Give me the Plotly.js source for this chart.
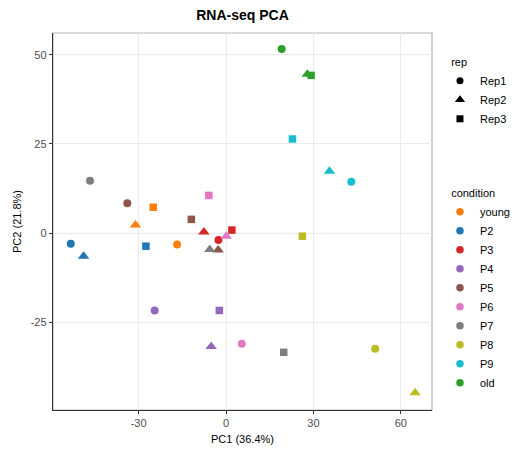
<!DOCTYPE html>
<html>
<head>
<meta charset="utf-8">
<script src="https://cdn.plot.ly/plotly-3.0.1.min.js"></script>
<style>html,body{margin:0;padding:0;background:#fff;}#chart{width:514px;height:450px;}</style>
</head>
<body>
<div id="chart"></div>
<script>
const conditions = ["young","P2","P3","P4","P5","P6","P7","P8","P9","old"];
const colors = ["#ff7f0e","#1f77b4","#d62728","#9467bd","#8c564b","#e377c2","#7f7f7f","#bcbd22","#17becf","#2ca02c"];
const reps = ["Rep1","Rep2","Rep3"];
const repSymbols = ["circle","triangle-up","square"];
// PC1 values per condition, ordered Rep1, Rep2, Rep3
const pc1 = {
  young: [-16.8, -31.1, -25.0],
  P2:    [-53.3, -48.9, -27.5],
  P3:    [-2.6, -7.6, 2.0],
  P4:    [-24.5, -5.1, -2.3],
  P5:    [-33.9, -2.7, -11.9],
  P6:    [5.4, 0.1, -5.9],
  P7:    [-46.7, -5.6, 19.8],
  P8:    [51.2, 64.9, 26.2],
  P9:    [43.0, 35.5, 22.8],
  old:   [19.1, 27.9, 29.2]
};
const pc2 = {
  young: [-3.1, 2.3, 7.3],
  P2:    [-2.9, -6.4, -3.6],
  P3:    [-1.9, 0.4, 0.9],
  P4:    [-21.6, -31.7, -21.6],
  P5:    [8.4, -4.7, 3.9],
  P6:    [-30.9, -0.8, 10.6],
  P7:    [14.7, -4.5, -33.3],
  P8:    [-32.3, -44.6, -0.8],
  P9:    [14.4, 17.4, 26.4],
  old:   [51.6, 44.5, 44.2]
};
const xTicks = [-30, 0, 30, 60];
const yTicks = [-25, 0, 25, 50];

const FONT = "Liberation Sans, Arial, Helvetica, sans-serif";
const symSizes = [8, 10, 7.5];
const traces = [];
conditions.forEach((c, i) => {
  traces.push({
    type: "scatter", mode: "markers",
    x: pc1[c], y: pc2[c], name: c, showlegend: false,
    marker: {color: colors[i], size: symSizes, symbol: repSymbols, opacity: 1, line: {width: 0}},
    hoverinfo: "x+y+name"
  });
});
reps.forEach((r, i) => {
  traces.push({
    type: "scatter", mode: "markers", x: [null], y: [null], name: r,
    legend: "legend", showlegend: true,
    marker: {color: "#000", size: i === 1 ? 9 : 7, symbol: repSymbols[i], opacity: 1}
  });
});
conditions.forEach((c, i) => {
  traces.push({
    type: "scatter", mode: "markers", x: [null], y: [null], name: c,
    legend: "legend2", showlegend: true,
    marker: {color: colors[i], size: 7.5, symbol: "circle", opacity: 1}
  });
});

const axisCommon = {
  showgrid: true, gridcolor: "#ebebeb", gridwidth: 1,
  zeroline: false, showline: true, linecolor: "#333333", linewidth: 1.2,
  ticks: "outside", ticklen: 3, tickcolor: "#333333", tickwidth: 1,
  tickfont: {family: FONT, size: 11, color: "#4d4d4d"},
  tickmode: "array"
};

const layout = {
  width: 514, height: 450,
  margin: {l: 53, r: 82, t: 33, b: 40, autoexpand: false},
  paper_bgcolor: "#ffffff", plot_bgcolor: "#ffffff",
  font: {family: FONT, size: 11, color: "#000"},
  title: {text: "<b>RNA-seq PCA</b>", font: {family: FONT, size: 14, color: "#000"},
          x: 0.5, xref: "paper", xanchor: "center", y: 0.967, yanchor: "middle"},
  xaxis: Object.assign({}, axisCommon, {
    range: [-59.4, 70.7], tickvals: xTicks, ticktext: xTicks.map(String),
    title: {text: "PC1 (36.4%)", font: {family: FONT, size: 11, color: "#000"}, standoff: 6}
  }),
  yaxis: Object.assign({}, axisCommon, {
    range: [-49.45, 56.06], tickvals: yTicks, ticktext: yTicks.map(String),
    title: {text: "PC2 (21.8%)", font: {family: FONT, size: 11, color: "#000"}, standoff: 6}
  }),
  shapes: [{
    type: "rect", xref: "paper", yref: "paper", x0: 0, x1: 1, y0: 0, y1: 1,
    line: {color: "#b3b3b3", width: 1.2}, layer: "below"
  }],
  legend: {
    x: 1.021, xanchor: "left", y: 0.9496, yanchor: "top",
    title: {text: "\u00a0\u00a0\u00a0rep", font: {family: FONT, size: 11, color: "#000"}},
    font: {family: FONT, size: 11, color: "#000"},
    bgcolor: "rgba(0,0,0,0)", borderwidth: 0, itemsizing: "trace"
  },
  legend2: {
    x: 1.021, xanchor: "left", y: 0.602, yanchor: "top",
    title: {text: "\u00a0\u00a0\u00a0condition", font: {family: FONT, size: 11, color: "#000"}},
    font: {family: FONT, size: 11, color: "#000"},
    bgcolor: "rgba(0,0,0,0)", borderwidth: 0, itemsizing: "trace"
  }
};

Plotly.newPlot("chart", traces, layout, {displayModeBar: false, staticPlot: true});
</script>
</body>
</html>
